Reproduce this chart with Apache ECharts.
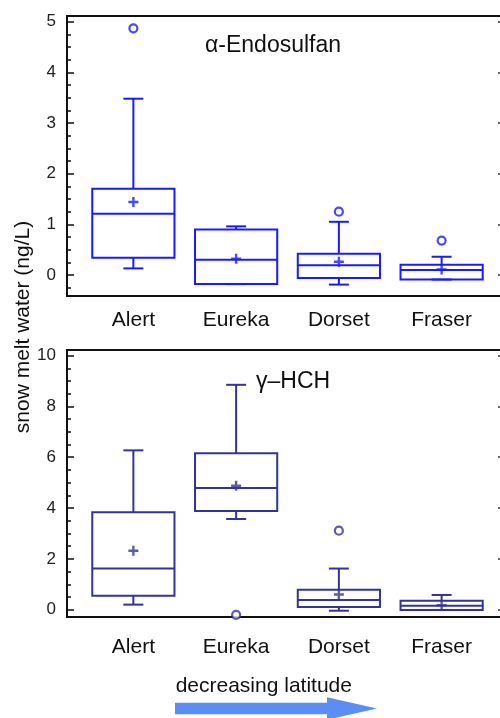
<!DOCTYPE html>
<html>
<head>
<meta charset="utf-8">
<script src="https://cdn.jsdelivr.net/npm/echarts@6/dist/echarts.min.js"></script>
<style>
  html, body { margin: 0; padding: 0; background: #fff; }
  #main { width: 500px; height: 718px; }
</style>
</head>
<body>
<div id="main"></div>
<script>
const sites = ['Alert', 'Eureka', 'Dorset', 'Fraser'];

// [lower whisker, Q1, median, Q3, upper whisker]
const endoBox = [
  [0.13, 0.34, 1.21, 1.70, 3.48],
  [-0.18, -0.18, 0.30, 0.90, 0.96],
  [-0.19, -0.06, 0.19, 0.42, 1.05],
  [-0.09, -0.09, 0.10, 0.20, 0.36]
];
const endoMean = [1.44, 0.32, 0.26, 0.11];
const endoOutliers = [[0, 4.87], [2, 1.25], [3, 0.68]];

const hchBox = [
  [0.20, 0.55, 1.62, 3.84, 6.27],
  [3.57, 3.88, 4.79, 6.16, 8.85],
  [-0.04, 0.11, 0.38, 0.79, 1.62],
  [-0.01, -0.01, 0.16, 0.35, 0.58]
];
const hchMean = [2.32, 4.88, 0.60, 0.18];
const hchOutliers = [[1, -0.20], [2, 3.11]];

const endoTicks = [0, 1, 2, 3, 4, 5];
const endoMinor = [-0.25, 0.25, 0.5, 0.75, 1.25, 1.5, 1.75, 2.25, 2.5, 2.75, 3.25, 3.5, 3.75, 4.25, 4.5, 4.75];
const hchTicks = [0, 2, 4, 6, 8, 10];
const hchMinor = [0.5, 1, 1.5, 2.5, 3, 3.5, 4.5, 5, 5.5, 6.5, 7, 7.5, 8.5, 9, 9.5];

const FONT = '"Liberation Sans", Arial, Helvetica, sans-serif';
const C_TOP = '#1a1aff';
const C_BOT = '#33339a';
const PLUS = 'path://M3.8,0h2.4v3.8h3.8v2.4h-3.8v3.8h-2.4v-3.8h-3.8v-2.4h3.8z';

const rangeTop = { min: -0.415, max: 5.113 };
const rangeBot = { min: -0.287, max: 10.22 };

function boxRender (color, lw) {
  return function (params, api) {
    const i = api.value(0);
    const lo = api.coord([i, api.value(1)]);
    const q1 = api.coord([i, api.value(2)]);
    const md = api.coord([i, api.value(3)]);
    const q3 = api.coord([i, api.value(4)]);
    const hi = api.coord([i, api.value(5)]);
    const bw = api.size([1, 0])[0] * 0.8;
    const cap = 10;
    const cx = md[0];
    const st = { stroke: color, lineWidth: lw, fill: null };
    const ln = (x1, y1, x2, y2) => ({ type: 'line', shape: { x1, y1, x2, y2 }, style: st });
    return {
      type: 'group',
      children: [
        ln(cx, q3[1], cx, hi[1]),
        ln(cx, q1[1], cx, lo[1]),
        ln(cx - cap, hi[1], cx + cap, hi[1]),
        ln(cx - cap, lo[1], cx + cap, lo[1]),
        { type: 'rect', shape: { x: cx - bw / 2, y: q3[1], width: bw, height: q1[1] - q3[1] }, style: st },
        ln(cx - bw / 2, md[1], cx + bw / 2, md[1])
      ]
    };
  };
}

function frameAxes (grid, range, ticks, minor) {
  return [
    {
      gridIndex: grid, type: 'value', position: 'left', min: range.min, max: range.max,
      axisLine: { show: false }, splitLine: { show: false },
      axisTick: { show: true, inside: true, length: 7, customValues: ticks, lineStyle: { color: '#111', width: 1.5 } },
      axisLabel: { customValues: ticks, margin: 11, fontSize: 17, color: '#222', fontFamily: FONT }
    },
    {
      gridIndex: grid, type: 'value', position: 'left', min: range.min, max: range.max,
      axisLine: { show: false }, splitLine: { show: false }, axisLabel: { show: false },
      axisTick: { show: true, inside: true, length: 4, customValues: minor, lineStyle: { color: '#111', width: 1.5 } }
    },
    {
      gridIndex: grid, type: 'value', position: 'right', min: range.min, max: range.max,
      axisLine: { show: false }, splitLine: { show: false }, axisLabel: { show: false },
      axisTick: { show: true, inside: true, length: 4, customValues: ticks, lineStyle: { color: '#333', width: 1.5 } }
    },
    {
      gridIndex: grid + 1, type: 'value', min: range.min, max: range.max, show: false
    }
  ];
}

function catAxis (grid, margin) {
  return {
    gridIndex: grid, type: 'category', data: sites,
    axisLine: { show: false }, axisTick: { show: false }, splitLine: { show: false },
    axisLabel: { margin: margin, fontSize: 21, color: '#111', fontFamily: FONT }
  };
}

function panelSeries (xi, yi, box, mean, outliers, color, lw) {
  return [
    {
      type: 'custom', xAxisIndex: xi, yAxisIndex: yi,
      renderItem: boxRender(color, lw),
      encode: { x: 0, y: [1, 2, 3, 4, 5] },
      data: box.map((b, i) => [i].concat(b)),
      silent: true
    },
    {
      type: 'scatter', xAxisIndex: xi, yAxisIndex: yi,
      symbol: PLUS, symbolSize: 10,
      itemStyle: { color: color },
      data: mean.map((v, i) => [i, v]),
      silent: true
    },
    {
      type: 'scatter', xAxisIndex: xi, yAxisIndex: yi,
      symbol: 'circle', symbolSize: 8,
      itemStyle: { color: '#fff', borderColor: color, borderWidth: 2.2 },
      data: outliers,
      silent: true
    }
  ];
}

const chart = echarts.init(document.getElementById('main'), null, { renderer: 'canvas' });
chart.setOption({
  animation: false,
  backgroundColor: '#fff',
  textStyle: { fontFamily: FONT },
  grid: [
    { left: 67, right: -2, top: 16, height: 280, show: true, borderColor: '#111', borderWidth: 2, backgroundColor: 'transparent', outerBoundsMode: 'none' },
    { left: 82, right: 7, top: 16, height: 280, outerBoundsMode: 'none' },
    { left: 67, right: -2, top: 350, height: 267, show: true, borderColor: '#111', borderWidth: 2, backgroundColor: 'transparent', outerBoundsMode: 'none' },
    { left: 82, right: 7, top: 350, height: 267, outerBoundsMode: 'none' }
  ],
  xAxis: [
    { gridIndex: 0, type: 'value', min: 0, max: 1, show: false },
    catAxis(1, 14),
    { gridIndex: 2, type: 'value', min: 0, max: 1, show: false },
    catAxis(3, 20)
  ],
  yAxis: frameAxes(0, rangeTop, endoTicks, endoMinor).concat(frameAxes(2, rangeBot, hchTicks, hchMinor)),
  series: panelSeries(1, 3, endoBox, endoMean, endoOutliers, C_TOP, 2)
    .concat(panelSeries(3, 7, hchBox, hchMean, hchOutliers, C_BOT, 2)),
  graphic: [
    { type: 'text', x: 205, y: 45.7, style: { text: 'α-Endosulfan', font: '23px ' + FONT, fill: '#111', verticalAlign: 'middle' } },
    { type: 'text', x: 256, y: 381.3, style: { text: 'γ–HCH', font: '23px ' + FONT, fill: '#111', verticalAlign: 'middle' } },
    { type: 'text', x: 23, y: 327, rotation: Math.PI / 2, style: { text: 'snow melt water (ng/L)', font: '21px ' + FONT, fill: '#111', align: 'center', verticalAlign: 'middle' } },
    { type: 'text', x: 263.8, y: 686, style: { text: 'decreasing latitude', font: '21px ' + FONT, fill: '#111', align: 'center', verticalAlign: 'middle' } },
    {
      type: 'polygon',
      shape: { points: [[175, 702.7], [327, 702.7], [327, 697.3], [377, 708.5], [327, 719.7], [327, 714.3], [175, 714.3]] },
      style: { fill: '#5b8ef5' }
    }
  ]
});
</script>
</body>
</html>
